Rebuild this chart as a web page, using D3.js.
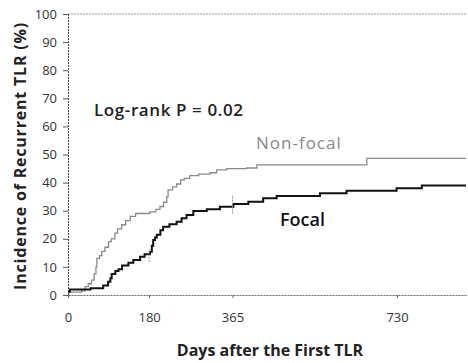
<!DOCTYPE html>
<html><head><meta charset="utf-8">
<script src="https://cdn.jsdelivr.net/npm/d3@7"></script>
<style>html,body{margin:0;padding:0;background:#fff;}svg{display:block;}</style>
</head><body>
<script>
// Data (days, cumulative incidence %)
const nonFocalDays = [0,30,38,45,52,58,62,64,70,75,82,90,96,104,110,119,128,138,150,182,195,204,212,219,222,232,241,250,258,270,290,315,330,352,396,419,663,883];
const nonFocalVals = [1,1.5,3,4,5.3,7.5,10,13,14,15.5,17,19,20,22,23.5,25,26.5,28,29,29.6,30.5,31.5,33,35,37.4,38.5,39.5,41,41.5,42.5,43,43.5,44.5,45,45.2,46.3,48.6,48.6];
const focalDays = [0,4,50,78,89,94,97,105,112,120,134,145,160,170,182,186,189,193,197,205,211,225,241,252,263,278,308,337,367,400,433,463,559,618,729,785,883];
const focalVals = [1.2,2,2.4,3.4,4.7,6,7.5,8.5,9.2,10.5,11.5,12.5,13.6,14.5,15.4,17.5,19.6,20.5,21.4,23,24.3,25.2,26.1,27.3,28.5,29.9,30.5,31.4,32.4,33.2,34.4,35.2,36.2,37.1,38,39,39];
const censorDays = [180, 365];
const censorLow = [11.7, 29];
const censorHigh = [16, 35.6];
const xTicks = [0, 180, 365, 730];
const yTicks = [0,10,20,30,40,50,60,70,80,90,100];
const xMax = 883;

const W = 468, H = 363;
const m = {left:68, top:14, right:2, bottom:68};
const svg = d3.select("body").append("svg").attr("width", W).attr("height", H);
const x = d3.scaleLinear().domain([0, xMax]).range([m.left, W - m.right]);
const y = d3.scaleLinear().domain([0, 100]).range([H - m.bottom, m.top]);
const font = "'Open Sans', 'Noto Sans', sans-serif";

// top border
svg.append("line").attr("x1", x(0)).attr("x2", x(xMax)).attr("y1", y(100)).attr("y2", y(100))
  .attr("stroke", "#999").attr("stroke-width", 1).attr("stroke-dasharray", "2,1");

// y axis
const yAxis = d3.axisLeft(y).tickValues(yTicks).tickSize(5).tickPadding(6);
const gy = svg.append("g").attr("transform", `translate(${x(0)},0)`).call(yAxis);
gy.select(".domain").attr("stroke", "#444").attr("stroke-dasharray", "2,1");
gy.selectAll(".tick line").attr("stroke", "#555");
gy.selectAll("text").attr("font-family", font).attr("font-size", 13).attr("fill", "#333");

// x axis
const xAxis = d3.axisBottom(x).tickValues(xTicks).tickSize(3).tickPadding(15).tickSizeOuter(0);
const gx = svg.append("g").attr("transform", `translate(0,${y(0)})`).call(xAxis);
gx.select(".domain").attr("stroke", "#666").attr("stroke-dasharray", "2,1");
gx.selectAll(".tick line").attr("stroke", "#666");
gx.selectAll("text").attr("font-family", font).attr("font-size", 13).attr("fill", "#333");

// curves
const line = d3.line().x(d => x(d[0])).y(d => y(d[1])).curve(d3.curveStepAfter);
svg.append("path").datum(nonFocalDays.map((d,i)=>[d, nonFocalVals[i]]))
  .attr("d", line).attr("fill", "none").attr("stroke", "#8a8a8a").attr("stroke-width", 1.3);
svg.append("path").datum(focalDays.map((d,i)=>[d, focalVals[i]]))
  .attr("d", line).attr("fill", "none").attr("stroke", "#111").attr("stroke-width", 2);

// censor marks
svg.selectAll(".censor").data(censorDays).enter().append("line")
  .attr("x1", d => x(d)).attr("x2", d => x(d))
  .attr("y1", (d,i) => y(censorLow[i])).attr("y2", (d,i) => y(censorHigh[i]))
  .attr("stroke", "#999").attr("stroke-width", 1).attr("stroke-dasharray", "2,1");

// annotations
svg.append("text").attr("x", 94).attr("y", 116).attr("font-family", font).attr("font-size", 17)
  .attr("font-weight", 600).attr("letter-spacing", 0.6).attr("fill", "#222").text("Log-rank P = 0.02");
svg.append("text").attr("x", 256).attr("y", 149).attr("font-family", font).attr("font-size", 17)
  .attr("font-weight", 400).attr("letter-spacing", 1).attr("fill", "#888").text("Non-focal");
svg.append("text").attr("x", 280).attr("y", 226).attr("font-family", font).attr("font-size", 18)
  .attr("font-weight", 600).attr("fill", "#111").text("Focal");

// axis titles
svg.append("text").attr("x", 270).attr("y", 356).attr("text-anchor", "middle")
  .attr("font-family", font).attr("font-size", 16).attr("font-weight", 700).attr("fill", "#222")
  .text("Days after the First TLR");
svg.append("text").attr("transform", "translate(26,156) rotate(-90)").attr("text-anchor", "middle")
  .attr("font-family", font).attr("font-size", 16).attr("font-weight", 700).attr("letter-spacing", 0.8).attr("fill", "#222")
  .text("Incidence of Recurrent TLR (%)");
</script>
</body></html>
